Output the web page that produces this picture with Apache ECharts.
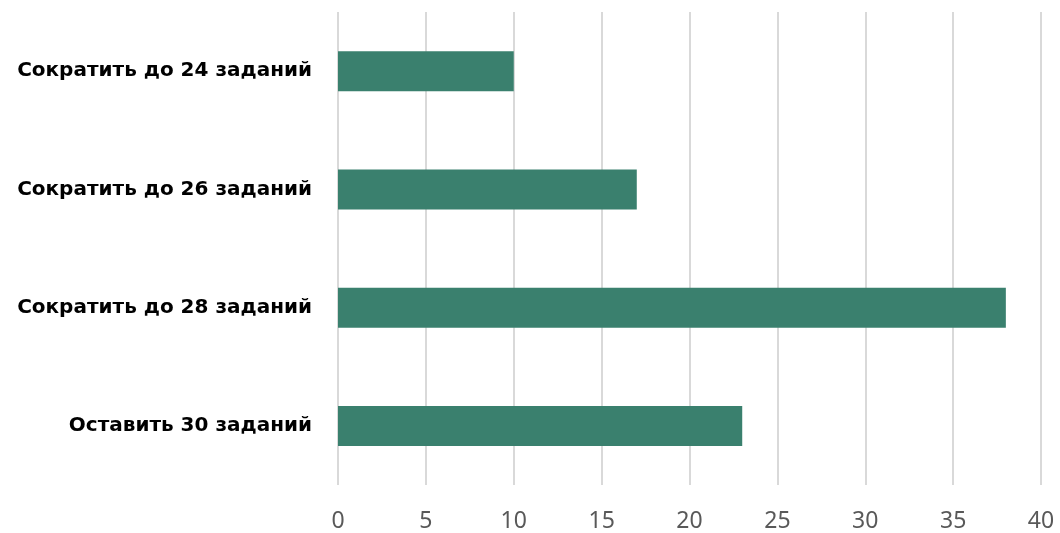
<!DOCTYPE html>
<html>
<head>
<meta charset="utf-8">
<script src="https://cdn.jsdelivr.net/npm/echarts@6/dist/echarts.min.js"></script>
<style>
  html, body { margin: 0; padding: 0; background: #fff; }
  #chart { width: 1060px; height: 533px; }
</style>
</head>
<body>
<div id="chart"></div>
<script>
// Survey answers: how many tasks should remain
const categories = [
  'Сократить до 24 заданий',
  'Сократить до 26 заданий',
  'Сократить до 28 заданий',
  'Оставить 30 заданий'
];
const values = [10, 17, 38, 23];
const xTicks = { min: 0, max: 40, interval: 5 };

const chart = echarts.init(document.getElementById('chart'), null, { renderer: 'canvas' });
chart.setOption({
  animation: false,
  backgroundColor: '#ffffff',
  grid: { left: 338, right: 19, top: 12, bottom: 47, containLabel: false },
  xAxis: {
    type: 'value',
    min: xTicks.min,
    max: xTicks.max,
    interval: xTicks.interval,
    axisLine: { show: false },
    axisTick: { show: false },
    axisLabel: {
      color: '#595959',
      fontFamily: 'Noto Sans',
      fontSize: 23,
      margin: 25
    },
    splitLine: { show: true, lineStyle: { color: '#d9d9d9', width: 2 } }
  },
  yAxis: {
    type: 'category',
    data: categories,
    inverse: true,
    axisLine: { show: false },
    axisTick: { show: false },
    axisLabel: {
      color: '#000000',
      fontFamily: 'DejaVu Sans',
      fontWeight: 'bold',
      fontSize: 20,
      margin: 26
    }
  },
  series: [{
    type: 'bar',
    data: values,
    barWidth: 40,
    itemStyle: { color: '#3a806e' }
  }]
});
</script>
</body>
</html>
